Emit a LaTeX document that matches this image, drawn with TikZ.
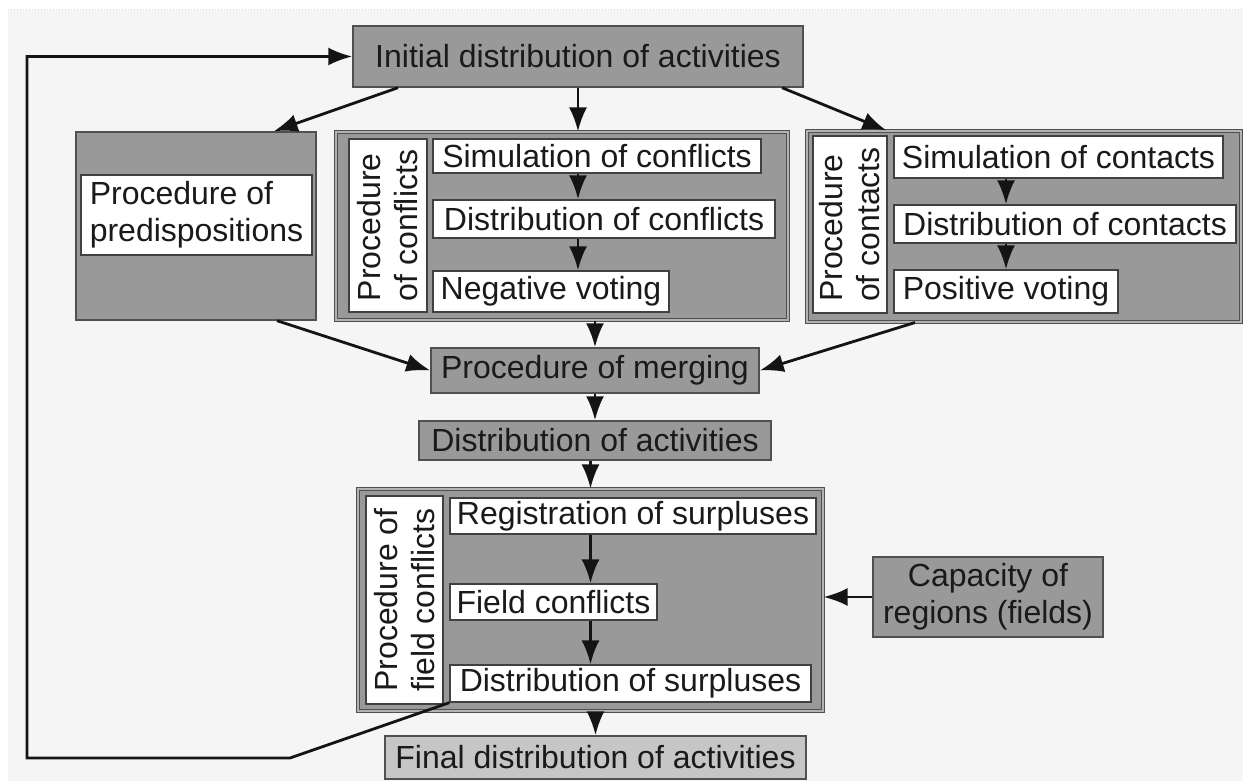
\documentclass[tikz,border=0pt]{standalone}
\usepackage{fontspec}
\setmainfont{Liberation Sans}
\usetikzlibrary{arrows.meta, positioning}
\definecolor{boxgray}{HTML}{999999}
\definecolor{finalgray}{HTML}{C6C6C6}
\definecolor{edgegray}{HTML}{505050}
\definecolor{pagegray}{HTML}{F5F5F5}
\definecolor{inkgray}{HTML}{1A1A1A}

\begin{document}
\begin{tikzpicture}[
    x=1pt, y=-1pt,
    every node/.style={font=\fontsize{32}{37}\selectfont, text=inkgray, inner sep=0pt},
    box/.style={draw=edgegray, fill=boxgray, line width=1.4pt},
    framebox/.style={box, double=boxgray!75!white, double distance=1.4pt, line width=1.1pt},
    card/.style={draw=edgegray!80!black, fill=white, line width=1.3pt},
    vlabel/.style={card, rotate=90, align=left},
    flow/.style={-{Latex[length=24pt, width=18pt]}, line width=2.8pt, draw=black!92}
  ]
  \useasboundingbox (0,0) rectangle (1243,781);
  \fill[pagegray] (8,10) rectangle (1243,781);
  \draw[gray!35, dotted, line width=1pt] (8,10) -- (1243,10);

  \node[box, minimum width=450pt, minimum height=61pt] (init) at (578,56.5) {Initial distribution of activities};

  % predispositions
  \node[box, minimum width=240pt, minimum height=188pt] (predisp) at (196,226) {};
  \node[card, minimum width=231pt, minimum height=80pt, align=left] (predisptxt) at (196.5,215) {Procedure of\\predispositions};

  % conflicts
  \node[framebox, minimum width=452pt, minimum height=188pt] (conf) at (562,226) {};
  \node[vlabel, minimum width=173pt, minimum height=78pt] (conflab) at (388,225.5) {Procedure\\of conflicts};
  \node[card, minimum width=328pt, minimum height=34pt] (simconf) at (597,156) {Simulation of conflicts};
  \node[card, minimum width=342pt, minimum height=38pt] (distconf) at (604,219) {Distribution of conflicts};
  \node[card, minimum width=236pt, minimum height=41pt] (negvote) at (551,291.5) {Negative voting};

  % contacts
  \node[framebox, minimum width=434pt, minimum height=191pt] (cont) at (1024,226.5) {};
  \node[vlabel, minimum width=177pt, minimum height=74pt] (contlab) at (850,224.5) {Procedure\\of contacts};
  \node[card, minimum width=329pt, minimum height=42pt] (simcont) at (1058.5,157) {Simulation of contacts};
  \node[card, minimum width=342pt, minimum height=38pt] (distcont) at (1065,224) {Distribution of contacts};
  \node[card, minimum width=224pt, minimum height=43pt] (posvote) at (1006,291.5) {Positive voting};

  \node[box, minimum width=328pt, minimum height=45pt] (merge) at (595,370.5) {Procedure of merging};
  \node[box, minimum width=352pt, minimum height=39pt] (distact) at (595,440.5) {Distribution of activities};

  % field conflicts
  \node[framebox, minimum width=465pt, minimum height=222pt] (field) at (590.5,600) {};
  \node[vlabel, minimum width=208pt, minimum height=77pt] (fieldlab) at (404.5,600) {Procedure of\\field conflicts};
  \node[card, minimum width=366pt, minimum height=36pt] (regsur) at (633,516) {Registration of surpluses};
  \node[card, minimum width=207pt, minimum height=36pt] (fieldconf) at (553.5,602) {Field conflicts};
  \node[card, minimum width=361pt, minimum height=37pt] (distsur) at (630.5,683.5) {Distribution of surpluses};

  \node[box, minimum width=230pt, minimum height=80pt, align=center] (capacity) at (988,597) {Capacity of\\regions (fields)};
  \node[box, fill=finalgray, minimum width=421pt, minimum height=43pt] (final) at (595.5,757.5) {Final distribution of activities};

  \coordinate (fbturn) at (290,758);
  \coordinate (fbcorner) at (27,758);

  \draw[flow] ([xshift=-180pt]init.south) -- ([xshift=-43pt]predisp.north east);
  \draw[flow] (init.south) -- (init.south |- conf.north);
  \draw[flow] ([xshift=204pt]init.south) -- ([xshift=80pt]cont.north west);
  \draw[flow] (simconf.south -| init) -- (distconf.north -| init);
  \draw[flow] (distconf.south -| init) -- (negvote.north -| init);
  \draw[flow] (simcont.south -| posvote) -- (distcont.north -| posvote);
  \draw[flow] (distcont.south -| posvote) -- (posvote.north);
  \draw[flow] ([xshift=81pt]predisp.south) -- (merge.west);
  \draw[flow] (conf.south -| merge) -- (merge.north);
  \draw[flow] ([xshift=-109pt]cont.south) -- (merge.east);
  \draw[flow] (merge) -- (distact);
  \draw[flow] (distact.south -| field) -- (field.north);
  \draw[flow] (regsur.south -| field) -- (fieldconf.north -| field);
  \draw[flow] (fieldconf.south -| field) -- (distsur.north -| field);
  \draw[flow] (capacity) -- (capacity.west -| field.east);
  \draw[flow] (field.south -| final) -- (final.north);
  \draw[flow] (distsur.south west) -- (fbturn) -- (fbcorner) |- (init.west);
\end{tikzpicture}
\end{document}
